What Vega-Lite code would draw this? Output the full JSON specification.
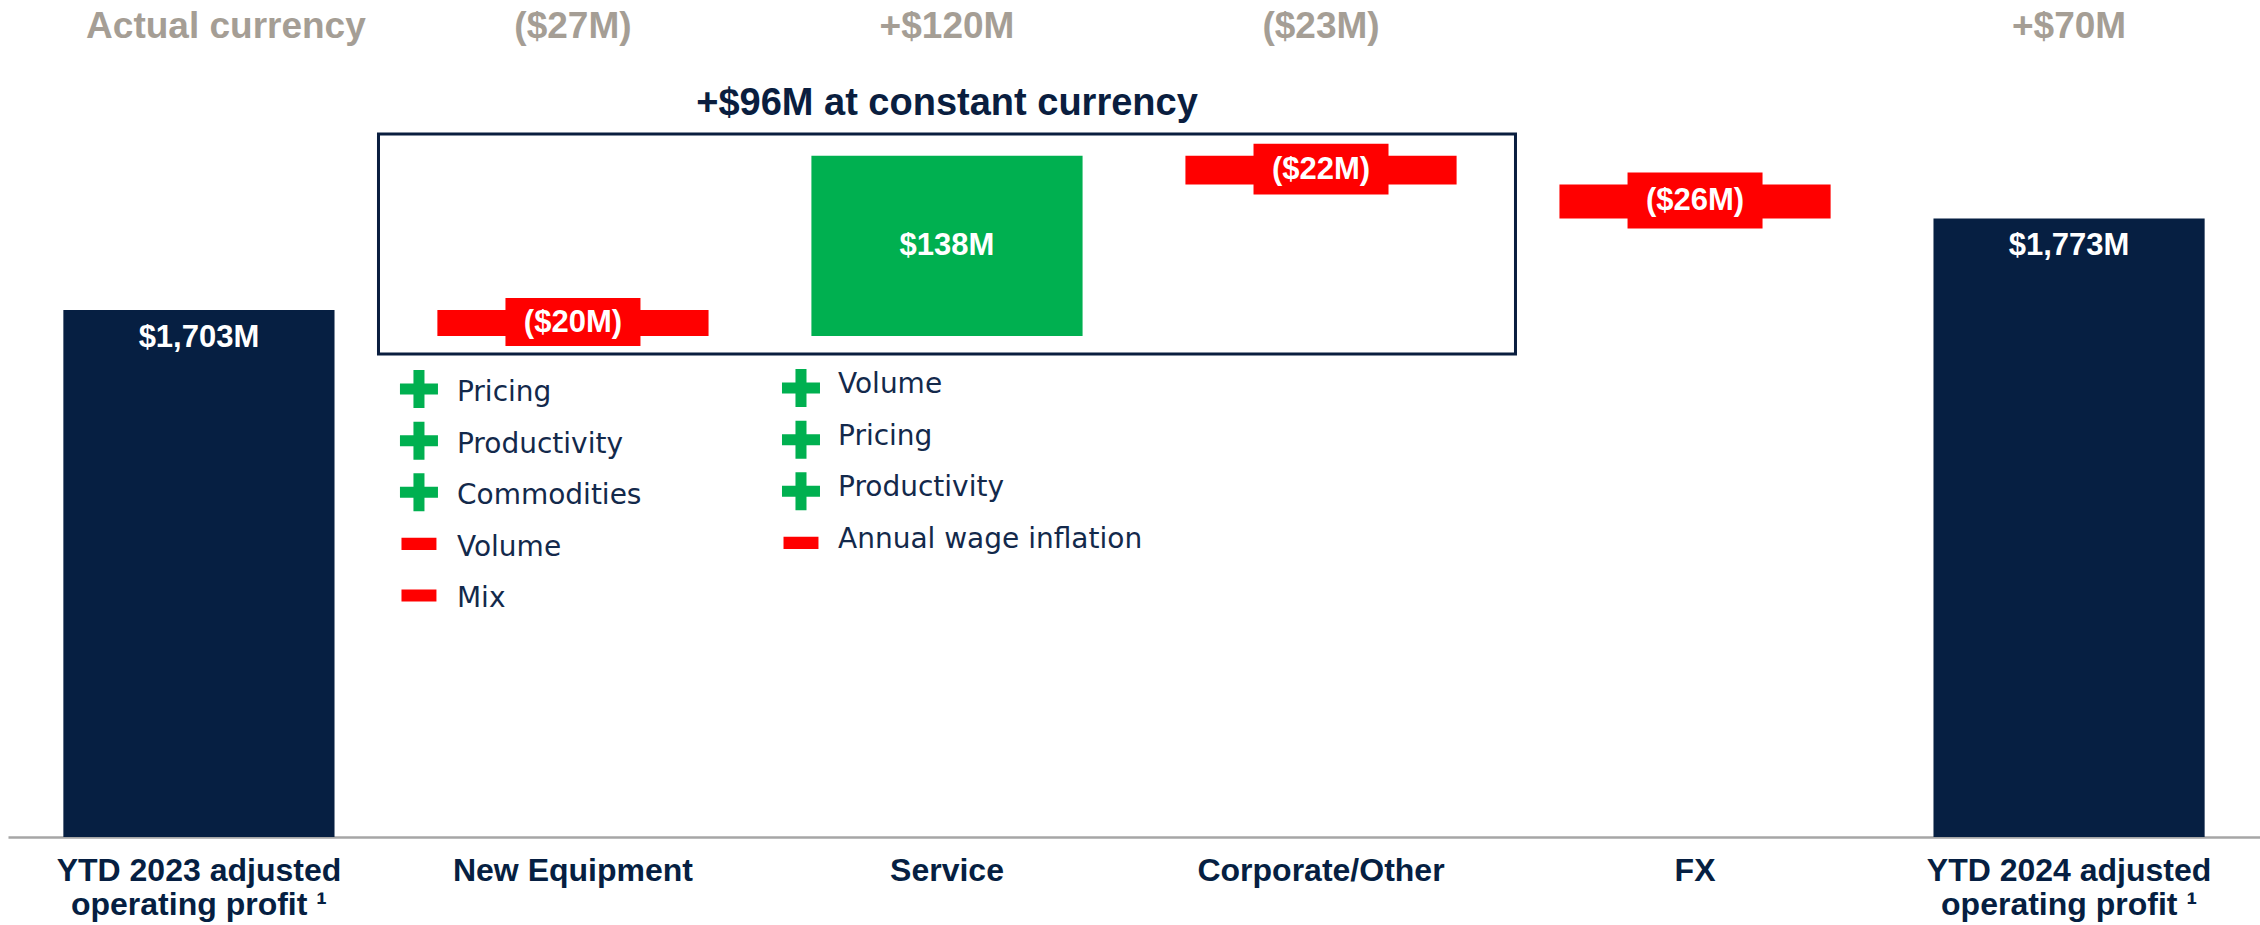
{
  "$schema": "https://vega.github.io/schema/vega-lite/v6.json",
  "width": 2252,
  "height": 837,
  "autosize": {"type": "none"},
  "padding": {"left": 8, "top": 0, "right": 0, "bottom": 88},
  "background": "white",
  "config": {"view": {"stroke": null}},
  "datasets": {
    "bridge": [
      {"category": "YTD 2023 adjusted operating profit ¹", "kind": "total", "start": 0, "end": 1703, "label": "$1,703M", "actual": ""},
      {"category": "New Equipment", "kind": "decrease", "start": 1703, "end": 1683, "label": "($20M)", "actual": "($27M)"},
      {"category": "Service", "kind": "increase", "start": 1683, "end": 1821, "label": "$138M", "actual": "+$120M"},
      {"category": "Corporate/Other", "kind": "decrease", "start": 1821, "end": 1799, "label": "($22M)", "actual": "($23M)"},
      {"category": "FX", "kind": "decrease", "start": 1799, "end": 1773, "label": "($26M)", "actual": ""},
      {"category": "YTD 2024 adjusted operating profit ¹", "kind": "total", "start": 0, "end": 1773, "label": "$1,773M", "actual": "+$70M"}
    ],
    "notes": [
      {"category": "YTD 2023 adjusted operating profit ¹", "role": "header", "text": "Actual currency"},
      {"category": "Service", "role": "note", "text": "+$96M at constant currency"}
    ],
    "drivers": [
      {"category": "New Equipment", "row": 1, "sign": "+", "item": "Pricing"},
      {"category": "New Equipment", "row": 2, "sign": "+", "item": "Productivity"},
      {"category": "New Equipment", "row": 3, "sign": "+", "item": "Commodities"},
      {"category": "New Equipment", "row": 4, "sign": "-", "item": "Volume"},
      {"category": "New Equipment", "row": 5, "sign": "-", "item": "Mix"},
      {"category": "Service", "row": 1, "sign": "+", "item": "Volume"},
      {"category": "Service", "row": 2, "sign": "+", "item": "Pricing"},
      {"category": "Service", "row": 3, "sign": "+", "item": "Productivity"},
      {"category": "Service", "row": 4, "sign": "-", "item": "Annual wage inflation"}
    ]
  },
  "encoding": {
    "x": {
      "field": "category",
      "type": "nominal",
      "sort": null,
      "scale": {
        "domain": ["YTD 2023 adjusted operating profit ¹", "New Equipment", "Service", "Corporate/Other", "FX", "YTD 2024 adjusted operating profit ¹"],
        "paddingInner": 0.275,
        "paddingOuter": 0.148
      },
      "axis": {
        "title": null,
        "labelAngle": 0,
        "ticks": false,
        "tickSize": 0,
        "domainColor": "#a6a6a6",
        "domainWidth": 2.5,
        "labelFont": "Liberation Sans",
        "labelFontWeight": "bold",
        "labelFontSize": 32,
        "labelColor": "#061f42",
        "labelPadding": 18,
        "labelLineHeight": 34,
        "labelLimit": 600,
        "labelOverlap": false,
        "labelExpr": "indexof(datum.value, ' operating') > 0 ? [substring(datum.value, 0, indexof(datum.value, ' operating')), substring(datum.value, indexof(datum.value, ' operating') + 1)] : datum.value"
      }
    }
  },
  "layer": [
    {
      "data": {"name": "bridge"},
      "layer": [
        {
          "mark": {"type": "bar"},
          "encoding": {
            "y": {"field": "start", "type": "quantitative", "scale": {"domain": [1300, 1940], "zero": false, "nice": false, "clamp": true}, "axis": null},
            "y2": {"field": "end"},
            "color": {"field": "kind", "type": "nominal", "scale": {"domain": ["total", "increase", "decrease"], "range": ["#061f42", "#00b050", "#ff0000"]}, "legend": null}
          }
        },
        {
          "transform": [{"filter": "datum.kind == 'decrease'"}],
          "mark": {"type": "bar", "width": 135, "color": "#ff0000", "yOffset": -12, "y2Offset": 10},
          "encoding": {
            "y": {"field": "start", "type": "quantitative", "axis": null},
            "y2": {"field": "end"}
          }
        },
        {
          "transform": [
            {"filter": "datum.kind != 'total'"},
            {"fold": ["start", "end"], "as": ["edge", "level"]},
            {"aggregate": [{"op": "mean", "field": "level", "as": "mid"}], "groupby": ["category", "label"]}
          ],
          "mark": {"type": "text", "font": "Liberation Sans", "fontWeight": "bold", "fontSize": 31, "color": "white", "baseline": "middle", "align": "center"},
          "encoding": {
            "y": {"field": "mid", "type": "quantitative", "axis": null},
            "text": {"field": "label"}
          }
        },
        {
          "transform": [{"filter": "datum.kind == 'total'"}],
          "mark": {"type": "text", "font": "Liberation Sans", "fontWeight": "bold", "fontSize": 31, "color": "white", "baseline": "middle", "align": "center", "dy": 28},
          "encoding": {
            "y": {"field": "end", "type": "quantitative", "axis": null},
            "text": {"field": "label"}
          }
        },
        {
          "transform": [{"filter": "datum.actual != ''"}],
          "mark": {"type": "text", "font": "Liberation Sans", "fontWeight": "bold", "fontSize": 37, "color": "#a59e95", "baseline": "middle", "align": "center"},
          "encoding": {
            "y": {"datum": 1919.3, "type": "quantitative", "axis": null},
            "text": {"field": "actual"}
          }
        },
        {
          "data": {"name": "notes"},
          "transform": [{"filter": "datum.role == 'header'"}],
          "mark": {"type": "text", "font": "Liberation Sans", "fontWeight": "bold", "fontSize": 37, "color": "#a59e95", "baseline": "middle", "align": "center", "dx": 27},
          "encoding": {
            "y": {"datum": 1919.3, "type": "quantitative", "axis": null},
            "text": {"field": "text"}
          }
        },
        {
          "data": {"name": "notes"},
          "transform": [{"filter": "datum.role == 'note'"}],
          "mark": {"type": "text", "font": "Liberation Sans", "fontWeight": "bold", "fontSize": 38, "color": "#0a1e3f", "baseline": "middle", "align": "center"},
          "encoding": {
            "y": {"datum": 1860.5, "type": "quantitative", "axis": null},
            "text": {"field": "text"}
          }
        },
        {
          "data": {"name": "notes"},
          "transform": [{"filter": "datum.role == 'note'"}],
          "mark": {"type": "bar", "width": 1137, "filled": false, "color": "#0a1e3f", "strokeWidth": 3},
          "encoding": {
            "y": {"datum": 1837.5, "type": "quantitative", "axis": null},
            "y2": {"datum": 1669.3}
          }
        }
      ]
    },
    {
      "data": {"name": "drivers"},
      "layer": [
        {
          "transform": [{"filter": "datum.category == 'New Equipment'"}],
          "mark": {"type": "point", "filled": true, "opacity": 1, "size": 1444, "xOffset": -154, "strokeWidth": 0},
          "encoding": {
            "y": {"field": "row", "type": "quantitative", "scale": {"domain": [-6.54, 9.68], "reverse": true, "zero": false, "nice": false}, "axis": null},
            "color": {"field": "sign", "type": "nominal", "scale": {"domain": ["+", "-"], "range": ["#00b050", "#ff0000"]}, "legend": null},
            "shape": {"field": "sign", "type": "nominal", "scale": {"domain": ["+", "-"], "range": ["M-0.29,-1H0.29V-0.29H1V0.29H0.29V1H-0.29V0.29H-1V-0.29H-0.29Z", "M-0.92,-0.32H0.92V0.32H-0.92Z"]}, "legend": null}
          }
        },
        {
          "transform": [{"filter": "datum.category == 'Service'"}],
          "mark": {"type": "point", "filled": true, "opacity": 1, "size": 1444, "xOffset": -146, "yOffset": -1, "strokeWidth": 0},
          "encoding": {
            "y": {"field": "row", "type": "quantitative", "axis": null},
            "color": {"field": "sign", "type": "nominal", "legend": null},
            "shape": {"field": "sign", "type": "nominal", "legend": null}
          }
        },
        {
          "transform": [{"filter": "datum.category == 'New Equipment'"}],
          "mark": {"type": "text", "font": "DejaVu Sans", "fontSize": 28, "color": "#13294b", "align": "left", "baseline": "middle", "dx": -116, "dy": 4},
          "encoding": {
            "y": {"field": "row", "type": "quantitative", "axis": null},
            "text": {"field": "item"}
          }
        },
        {
          "transform": [{"filter": "datum.category == 'Service'"}],
          "mark": {"type": "text", "font": "DejaVu Sans", "fontSize": 28, "color": "#13294b", "align": "left", "baseline": "middle", "dx": -109, "dy": -4},
          "encoding": {
            "y": {"field": "row", "type": "quantitative", "axis": null},
            "text": {"field": "item"}
          }
        }
      ]
    }
  ],
  "resolve": {"scale": {"y": "independent", "color": "independent", "shape": "independent"}}
}
